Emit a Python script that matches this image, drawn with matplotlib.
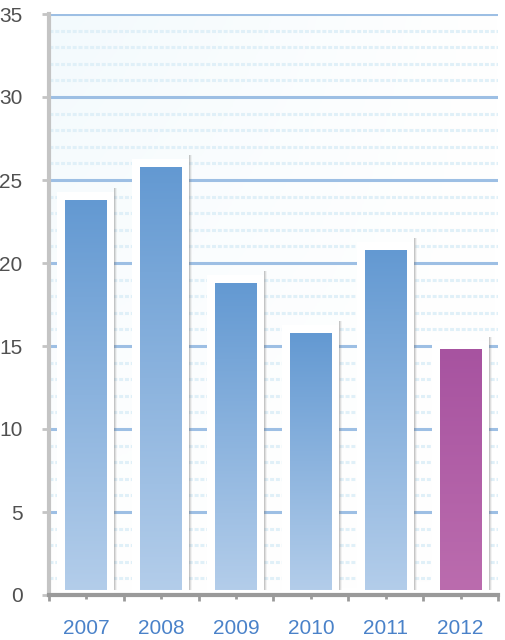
import numpy as np
import matplotlib.pyplot as plt
from matplotlib.patches import Rectangle
from matplotlib.colors import LinearSegmentedColormap

# data
years = ['2007', '2008', '2009', '2010', '2011', '2012']
values = [23.8, 25.8, 18.8, 15.8, 20.8, 14.8]
highlight = ['2012']

blue_cmap = LinearSegmentedColormap.from_list('b', ['#b3cdea', '#6399d2'])
pink_cmap = LinearSegmentedColormap.from_list('p', ['#bb6cae', '#a753a0'])

fig = plt.figure(figsize=(5.06, 6.4), dpi=100)
ax = fig.add_axes([49 / 506, 45 / 640, 449 / 506, 581 / 640])
ax.set_xlim(0, 6)
ax.set_ylim(0, 35)

# faint background wash
bg = np.linspace(1, 0, 200)[None, :] * np.linspace(1, 0, 200)[:, None]
ax.imshow(bg[::-1], extent=(0, 6, 0, 35), aspect='auto', origin='lower',
          cmap=LinearSegmentedColormap.from_list('bg', ['#ffffff', '#f3fafd']),
          zorder=0)

# grid
for y in range(1, 36):
    if y % 5 == 0:
        ax.axhline(y, color='#9dbfe4', lw=2.2, zorder=1)
    else:
        ax.axhline(y, color='#e0f0f8', lw=2.2, dashes=(1.3, 0.6), zorder=1)

bw = 0.56
px_x = 6 / 449
px_y = 35 / 581
base = 0.3
grad = np.linspace(0, 1, 256)[:, None]
for i, (yr, v) in enumerate(zip(years, values)):
    cx = i + 0.5
    x0, x1 = cx - bw / 2, cx + bw / 2
    # white card behind each bar
    card = Rectangle((x0 - 8 * px_x, 0), bw + 15 * px_x, v + 8 * px_y,
                     facecolor='white', edgecolor='none', zorder=2)
    ax.add_patch(card)
    # soft gray shadow on the card's right edge
    sx = x1 + 7 * px_x
    for k, a in enumerate([0.4, 0.22, 0.08]):
        ax.add_patch(Rectangle((sx + k * px_x, 0.3), px_x, v + 7 * px_y,
                               facecolor='#707070', alpha=a, edgecolor='none',
                               zorder=2))
    cmap = pink_cmap if yr in highlight else blue_cmap
    im = ax.imshow(grad, extent=(x0, x1, base, v), aspect='auto',
                   origin='lower', cmap=cmap, zorder=3)
    im.set_clip_path(Rectangle((x0, base), bw, v - base, transform=ax.transData))

ax.set_xlim(0, 6)
ax.set_ylim(0, 35)

for s in ['top', 'right']:
    ax.spines[s].set_visible(False)
for s in ['left', 'bottom']:
    ax.spines[s].set_color('#c4c4c4')
    ax.spines[s].set_linewidth(3)
ax.spines['bottom'].set_color('#9a9a9a')

ax.set_yticks(range(0, 36, 5))
ax.set_yticklabels([str(t) for t in range(0, 36, 5)])
ax.tick_params(axis='y', length=5, width=2, color='#c4c4c4', pad=14,
               labelsize=15, labelcolor='#505050')
ax.set_xticks(range(7))
ax.set_xticklabels([''] * 7)
ax.set_xticks([i + 0.5 for i in range(6)], minor=True)
ax.set_xticklabels(years, minor=True)
ax.tick_params(axis='x', which='major', length=4, width=2, color='#9a9a9a')
ax.tick_params(axis='x', which='minor', length=3, width=2, color='#9a9a9a',
               pad=14, labelsize=15, labelcolor='#4a82c9')
for lab in ax.get_xticklabels(minor=True) + ax.get_yticklabels():
    lab.set_family(['Liberation Sans', 'DejaVu Sans'])

fig.savefig('out.png', dpi=100)
